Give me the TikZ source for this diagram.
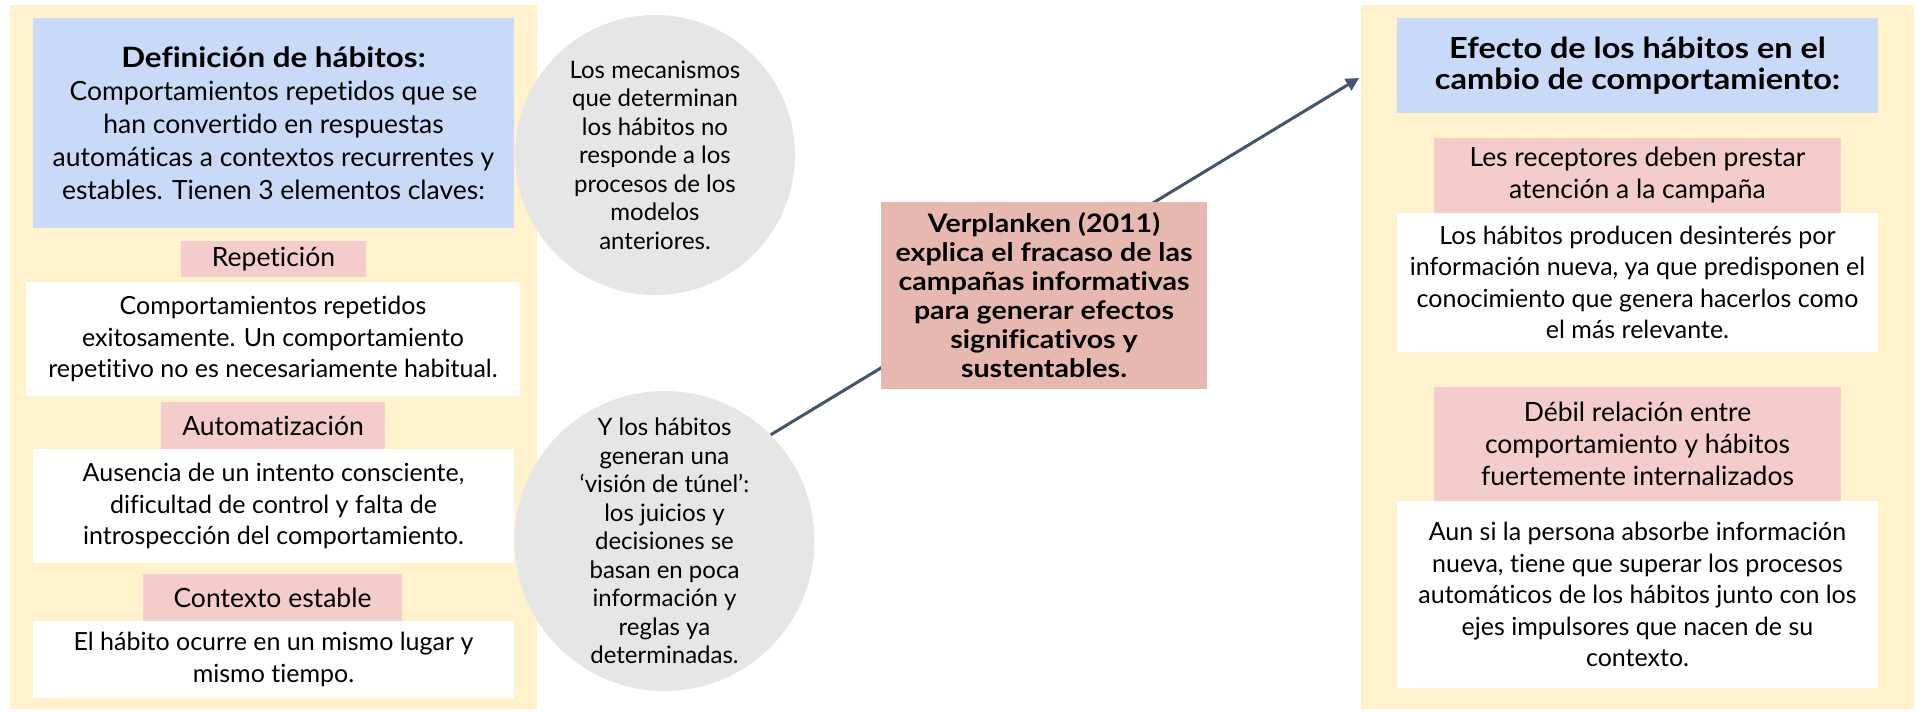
\documentclass[tikz,border=0pt]{standalone}
\usepackage{fontspec}
\setmainfont{Lato}[Ligatures=NoCommon,BoldFeatures={FakeStretch=1.12}]
\usetikzlibrary{arrows.meta}

\definecolor{panelyellow}{HTML}{FFF2CC}
\definecolor{headblue}{HTML}{C9DAF8}
\definecolor{tagpink}{HTML}{F4CCCC}
\definecolor{bubblegray}{HTML}{E6E6E6}
\definecolor{mainrose}{HTML}{E6B8AF}
\definecolor{linkslate}{HTML}{44546A}

\begin{document}
\begin{tikzpicture}[x=1pt,y=-1pt,
        card/.style 2 args={rectangle,minimum width=#1,minimum height=#2,inner sep=0pt,align=center},
        panel/.style={card={#1}{704pt},fill=panelyellow},
        head/.style 2 args={card={#1}{#2},fill=headblue,font=\fontsize{26.5}{33}\selectfont},
        tag/.style 2 args={card={#1}{#2},fill=tagpink,font=\fontsize{26.5}{32}\selectfont},
        note/.style 2 args={card={#1}{#2},fill=white,font=\fontsize{25}{31.5}\selectfont},
        bubble/.style={circle,minimum size=#1,inner sep=0pt,fill=bubblegray,align=center,font=\fontsize{24}{28.5}\selectfont},
        link/.style={draw=linkslate,line width=3pt,-{Triangle[length=13pt,width=13pt]}}]

        \useasboundingbox (0,0) rectangle (1917,712);

        \node[panel=527pt] (leftpanel) at (273.5,357) {};
        \node[panel=553pt] (rightpanel) at (1637.5,357) {};

        \node[head={481pt}{210pt}] (defhead) at (273.5,123) {{\fontsize{28}{33}\selectfont\bfseries Definición de hábitos:}\\
            Comportamientos repetidos que se\\ han convertido en respuestas\\
            automáticas a contextos recurrentes y\\ estables. Tienen 3 elementos claves:};
        \node[tag={185pt}{36pt}] (reptag) at (273.5,259) {Repetición};
        \node[note={494pt}{114pt}] (repnote) at (273,339) {Comportamientos repetidos\\
            exitosamente. Un comportamiento\\ repetitivo no es necesariamente habitual.};
        \node[tag={224pt}{47pt}] (autotag) at (273,425.5) {Automatización};
        \node[note={481pt}{114pt}] (autonote) at (273.5,506) {Ausencia de un intento consciente,\\
            dificultad de control y falta de\\ introspección del comportamiento.};
        \node[tag={259pt}{47pt}] (ctxtag) at (272.5,597.5) {Contexto estable};
        \node[note={481pt}{77pt}] (ctxnote) at (273.5,659.5) {El hábito ocurre en un mismo lugar y\\ mismo tiempo.};

        \node[bubble=280pt] (mechcirc) at (655,155) {Los mecanismos\\ que determinan\\ los hábitos no\\
            responde a los\\ procesos de los\\ modelos\\ anteriores.};
        \node[bubble=300pt] (tunelcirc) at (664.5,541) {Y los hábitos\\ generan una\\ ‘visión de túnel’:\\
            los juicios y\\ decisiones se\\ basan en poca\\ información y\\ reglas ya\\ determinadas.};

        \node[head={481pt}{95pt},font=\fontsize{29}{31}\selectfont\bfseries] (efhead) at (1637.5,65.5) {Efecto de los hábitos en el\\
            cambio de comportamiento:};
        \node[tag={407pt}{75pt}] (atttag) at (1637.5,175.5) {Les receptores deben prestar\\ atención a la campaña};
        \node[note={481pt}{139pt}] (attnote) at (1637.5,282.5) {Los hábitos producen desinterés por\\
            información nueva, ya que predisponen el\\ conocimiento que genera hacerlos como\\ el más relevante.};
        \node[tag={407pt}{114pt}] (reltag) at (1637.5,444) {Débil relación entre\\ comportamiento y hábitos\\
            fuertemente internalizados};
        \node[note={481pt}{187pt}] (relnote) at (1637.5,594.5) {Aun si la persona absorbe información\\
            nueva, tiene que superar los procesos\\ automáticos de los hábitos junto con los\\
            ejes impulsores que nacen de su\\ contexto.};

        \coordinate (tip) at (1359,78);
        \draw[link] (tunelcirc.45) -- (tip);

        \node[card={326pt}{187pt},fill=mainrose,font=\fontsize{25.5}{29}\selectfont\bfseries] (verpl) at (1044,295.5) {Verplanken (2011)\\
            explica el fracaso de las\\ campañas informativas\\ para generar efectos\\ significativos y\\ sustentables.};
\end{tikzpicture}
\end{document}
